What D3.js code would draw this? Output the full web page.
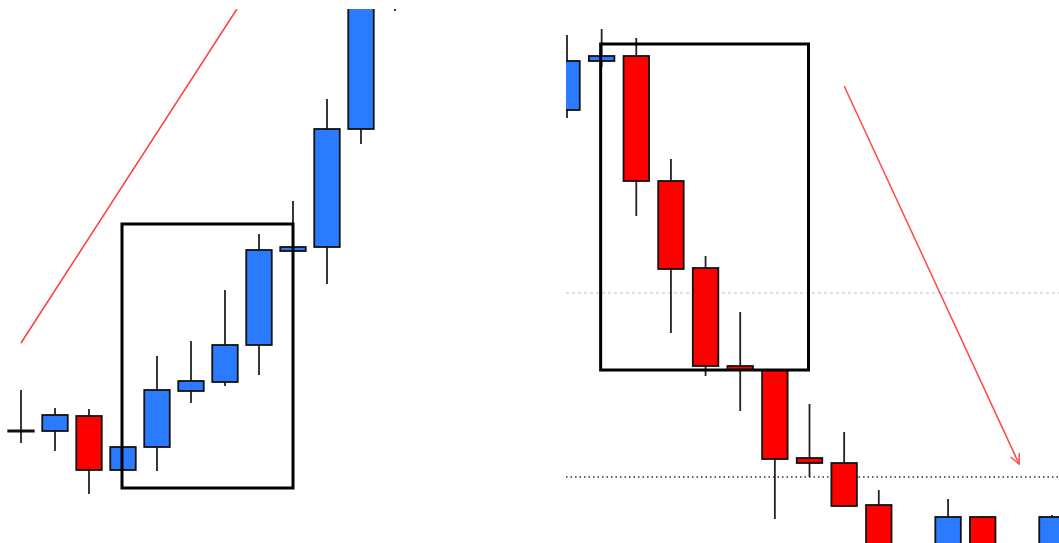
<!DOCTYPE html>
<html>
<head>
<meta charset="utf-8">
<script src="https://cdn.jsdelivr.net/npm/d3@7"></script>
<style>
  html, body { margin: 0; padding: 0; background: #fff; overflow: hidden; }
  svg { display: block; }
  .wick { stroke: #222; stroke-width: 1.8; }
  .body { stroke: #111; stroke-width: 1.8; }
</style>
</head>
<body>
<script>
'use strict';

// left panel: bullish run (open, high, low, close)
const leftOpen  = [111.2, 111.2, 112.7, 107.3, 109.6, 115.2, 116.1, 119.8, 129.2, 129.6, 141.4, 158.3];
const leftHigh  = [115.3, 113.5, 113.4, 109.7, 118.7, 120.2, 125.3, 130.9, 134.2, 144.4, 160.0, 166.0];
const leftLow   = [110.0, 109.2, 104.9, 107.2, 107.2, 114.0, 115.7, 116.8, 128.5, 125.9, 139.9, 153.2];
const leftClose = [111.2, 112.8, 107.3, 109.6, 115.3, 116.2, 119.8, 129.3, 129.6, 141.4, 158.0, 163.0];

// right panel: bearish run
const rightOpen  = [243.3, 248.2, 248.7, 236.2, 227.5, 217.7, 217.3, 208.5, 208.0, 203.8, 198.0, 196.3, 202.6, 198.0, 196.3];
const rightHigh  = [250.8, 251.4, 250.5, 238.4, 228.7, 223.1, 217.4, 213.9, 211.1, 205.3, 199.0, 204.4, 202.7, 199.0, 202.8];
const rightLow   = [242.5, 247.6, 232.7, 221.0, 216.7, 213.2, 202.4, 206.6, 203.6, 197.3, 190.0, 195.3, 195.3, 195.0, 195.3];
const rightClose = [248.2, 248.7, 236.2, 227.4, 217.7, 217.3, 208.4, 208.0, 203.7, 198.3, 193.0, 202.6, 196.3, 197.0, 202.6];

// annotations (bar index, price)
const leftBox = { i0: 3, i1: 8, p0: 105.5, p1: 131.9 };
const leftTrend = [[0, 120.0], [6.35, 153.4]];
const rightBox = { i0: 1, i1: 7, p0: 217.3, p1: 249.9 };
const rightArrow = [[8.0, 245.7], [13.05, 207.9]];
const rightDashed = 225.0;
const rightDotted = 206.6;

const W = 1059, H = 543;
const UP = '#2a7bff', DOWN = '#ff0000';

const svg = d3.select('body').append('svg').attr('width', W).attr('height', H);
const defs = svg.append('defs');

function makeCandles(open, high, low, close) {
  return open.map((o, i) => ({ i, o, h: high[i], l: low[i], c: close[i] }));
}

function panel(id, clip, x, y, candles) {
  defs.append('clipPath').attr('id', id)
    .append('rect').attr('x', clip.x).attr('y', clip.y).attr('width', clip.w).attr('height', clip.h);
  const g = svg.append('g').attr('clip-path', `url(#${id})`);
  const bw = 25.5;
  const cg = g.selectAll('g.candle').data(candles).enter().append('g').classed('candle', true);
  cg.append('line').classed('wick', true)
    .attr('x1', d => x(d.i)).attr('x2', d => x(d.i))
    .attr('y1', d => y(d.h)).attr('y2', d => y(d.l));
  cg.append('rect').classed('body', true)
    .attr('x', d => x(d.i) - bw / 2)
    .attr('width', bw)
    .attr('y', d => y(Math.max(d.o, d.c)))
    .attr('height', d => Math.max(1, Math.abs(y(d.o) - y(d.c))))
    .attr('fill', d => d.c >= d.o ? UP : DOWN);
  return g;
}

// ---- left panel
const xL = d3.scaleLinear().domain([0, 11]).range([21, 395]);
const yL = d3.scaleLinear().domain([100, 154.3]).range([543, 0]);
const gL = panel('clipL', { x: 0, y: 9, w: 402, h: H }, xL, yL,
  makeCandles(leftOpen, leftHigh, leftLow, leftClose));

// doji drawn as a thick cross bar
gL.selectAll('g.candle').filter(d => d.o === d.c).select('rect')
  .attr('fill', '#111').attr('height', 1.2)
  .attr('y', d => yL(d.o) - 0.6);

gL.append('rect')
  .attr('x', xL(leftBox.i0) - 1).attr('y', yL(leftBox.p1))
  .attr('width', xL(leftBox.i1) - xL(leftBox.i0) + 1)
  .attr('height', yL(leftBox.p0) - yL(leftBox.p1))
  .attr('fill', 'none').attr('stroke', '#000').attr('stroke-width', 3);

gL.append('line')
  .attr('x1', xL(leftTrend[0][0])).attr('y1', yL(leftTrend[0][1]))
  .attr('x2', xL(leftTrend[1][0])).attr('y2', yL(leftTrend[1][1]))
  .attr('stroke', '#ff3b3b').attr('stroke-width', 1.5);

// ---- right panel
const xR = d3.scaleLinear().domain([0, 14]).range([567, 1052]);
const yR = d3.scaleLinear().domain([200, 254.3]).range([543, 0]);
const clipR = { x: 566, y: 0, w: W - 566, h: H };

// reference lines go under candles
const gLines = svg.append('g');
gLines.append('line')
  .attr('x1', clipR.x).attr('x2', W)
  .attr('y1', yR(rightDashed)).attr('y2', yR(rightDashed))
  .attr('stroke', '#bdbdbd').attr('stroke-width', 1).attr('stroke-dasharray', '3,3');
gLines.append('line')
  .attr('x1', clipR.x).attr('x2', W)
  .attr('y1', yR(rightDotted)).attr('y2', yR(rightDotted))
  .attr('stroke', '#333').attr('stroke-width', 1.5).attr('stroke-dasharray', '1.5,3');

const gR = panel('clipR', clipR, xR, yR,
  makeCandles(rightOpen, rightHigh, rightLow, rightClose));

gR.append('rect')
  .attr('x', xR(rightBox.i0) - 1).attr('y', yR(rightBox.p1))
  .attr('width', xR(rightBox.i1) - xR(rightBox.i0))
  .attr('height', yR(rightBox.p0) - yR(rightBox.p1))
  .attr('fill', 'none').attr('stroke', '#000').attr('stroke-width', 3);

const ax1 = xR(rightArrow[0][0]), ay1 = yR(rightArrow[0][1]);
const ax2 = xR(rightArrow[1][0]), ay2 = yR(rightArrow[1][1]);
gR.append('line')
  .attr('x1', ax1).attr('y1', ay1).attr('x2', ax2).attr('y2', ay2)
  .attr('stroke', '#ff4a4a').attr('stroke-width', 1.5);
// open arrow head
const ang = Math.atan2(ay2 - ay1, ax2 - ax1);
const hl = 11, spread = 0.45;
gR.append('path')
  .attr('d', `M ${ax2 - hl * Math.cos(ang - spread)} ${ay2 - hl * Math.sin(ang - spread)} L ${ax2} ${ay2} L ${ax2 - hl * Math.cos(ang + spread)} ${ay2 - hl * Math.sin(ang + spread)}`)
  .attr('fill', 'none').attr('stroke', '#ff4a4a').attr('stroke-width', 1.5);
</script>
</body>
</html>
